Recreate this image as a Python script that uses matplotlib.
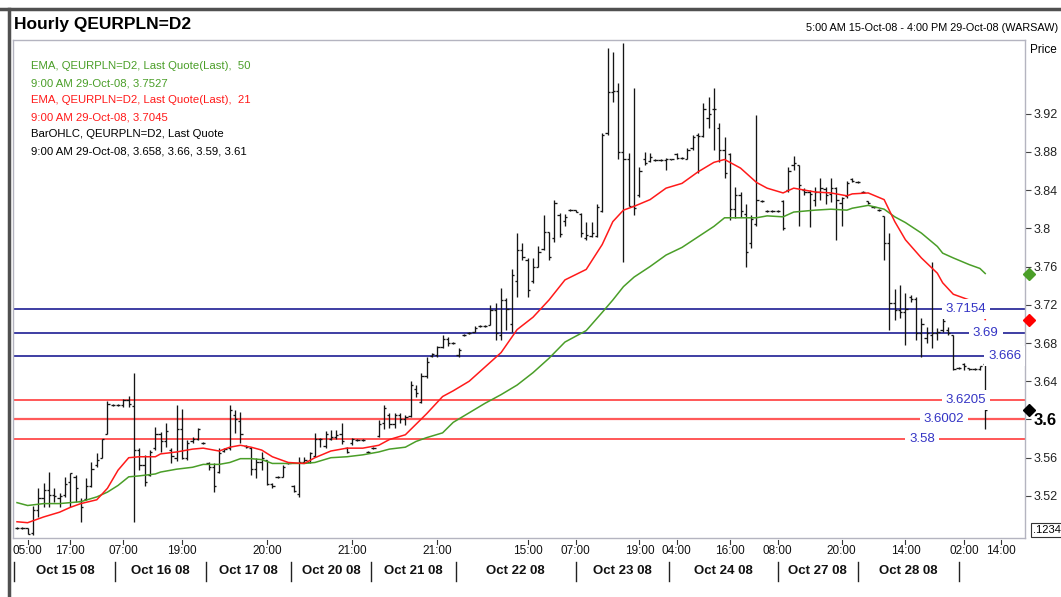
import matplotlib
matplotlib.use("Agg")
import matplotlib.pyplot as plt
import matplotlib.font_manager as fm
from matplotlib.collections import LineCollection
from matplotlib.lines import Line2D
from matplotlib.transforms import blended_transform_factory

names = {f.name for f in fm.fontManager.ttflist}
NARROW = 'Liberation Sans Narrow' if 'Liberation Sans Narrow' in names else 'Liberation Sans'
plt.rcParams['font.family'] = [NARROW, 'DejaVu Sans']

# ---------------- data ----------------
opens = [3.486,3.486,3.486,3.481,3.505,3.518,3.526,3.521,3.518,3.521,
         3.535,3.540,3.515,3.517,3.530,3.552,3.560,3.585,3.615,3.615,
         3.615,3.620,3.614,3.568,3.552,3.542,3.570,3.585,3.578,3.568,
         3.560,3.590,3.560,3.577,3.580,3.575,3.554,3.550,3.545,3.567,
         3.570,3.605,3.598,3.572,3.570,3.548,3.555,3.558,3.533,3.540,
         3.540,3.554,3.530,3.522,3.556,3.556,3.562,3.580,3.572,3.580,
         3.582,3.585,3.570,3.575,3.579,3.579,3.566,3.570,3.583,3.596,
         3.605,3.595,3.605,3.600,3.604,3.632,3.618,3.645,3.666,3.667,
         3.676,3.684,3.680,3.667,3.688,3.690,3.692,3.698,3.698,3.699,
         3.715,3.688,3.725,3.700,3.745,3.777,3.767,3.745,3.760,3.778,
         3.796,3.790,3.814,3.808,3.819,3.819,3.815,3.790,3.792,3.792,
         3.818,3.900,3.943,3.944,3.880,3.872,3.823,3.835,3.872,3.870,
         3.871,3.871,3.871,3.872,3.878,3.874,3.873,3.884,3.898,3.897,
         3.915,3.925,3.905,3.882,3.878,3.820,3.835,3.815,3.785,3.805,
         3.829,3.818,3.818,3.818,3.829,3.840,3.866,3.866,3.840,3.838,
         3.830,3.838,3.841,3.836,3.842,3.826,3.834,3.852,3.848,3.838,
         3.829,3.822,3.819,3.813,3.785,3.722,3.715,3.712,3.728,3.726,
         3.690,3.685,3.688,3.690,3.694,3.694,3.688,3.654,3.658,3.654,
         3.653,3.653,3.658]
highs = [3.487,3.487,3.486,3.510,3.528,3.534,3.545,3.528,3.523,3.540,
         3.544,3.542,3.518,3.539,3.555,3.565,3.580,3.619,3.616,3.616,
         3.621,3.625,3.649,3.570,3.563,3.568,3.592,3.587,3.596,3.570,
         3.615,3.611,3.579,3.582,3.591,3.576,3.555,3.554,3.570,3.570,
         3.615,3.610,3.608,3.573,3.571,3.560,3.566,3.558,3.534,3.541,
         3.552,3.555,3.531,3.561,3.561,3.566,3.586,3.581,3.588,3.589,
         3.589,3.596,3.571,3.581,3.580,3.580,3.567,3.571,3.599,3.615,
         3.607,3.607,3.607,3.605,3.640,3.636,3.649,3.665,3.670,3.677,
         3.688,3.686,3.681,3.675,3.689,3.691,3.698,3.699,3.699,3.720,
         3.722,3.738,3.727,3.757,3.795,3.785,3.769,3.769,3.781,3.814,
         3.796,3.830,3.816,3.815,3.820,3.819,3.816,3.807,3.807,3.825,
         3.900,3.989,3.984,3.952,3.994,3.879,3.947,3.864,3.880,3.879,
         3.872,3.872,3.874,3.873,3.879,3.875,3.884,3.898,3.900,3.931,
         3.937,3.947,3.910,3.895,3.879,3.843,3.838,3.825,3.814,3.919,
         3.830,3.819,3.819,3.819,3.830,3.864,3.876,3.866,3.842,3.840,
         3.843,3.853,3.843,3.853,3.843,3.833,3.849,3.853,3.849,3.839,
         3.829,3.823,3.820,3.813,3.795,3.736,3.741,3.732,3.730,3.728,
         3.706,3.697,3.765,3.696,3.706,3.697,3.688,3.655,3.659,3.654,
         3.654,3.656,3.660]
lows = [3.485,3.485,3.480,3.479,3.498,3.508,3.508,3.514,3.508,3.519,
        3.508,3.514,3.493,3.516,3.529,3.550,3.560,3.585,3.614,3.614,
        3.613,3.613,3.493,3.547,3.530,3.541,3.568,3.566,3.571,3.554,
        3.557,3.559,3.558,3.575,3.579,3.574,3.547,3.524,3.544,3.566,
        3.568,3.586,3.575,3.570,3.542,3.539,3.547,3.531,3.528,3.539,
        3.540,3.553,3.524,3.519,3.554,3.554,3.561,3.571,3.570,3.579,
        3.580,3.574,3.565,3.573,3.578,3.578,3.565,3.569,3.582,3.590,
        3.591,3.591,3.596,3.594,3.603,3.624,3.617,3.643,3.665,3.665,
        3.675,3.677,3.679,3.665,3.687,3.689,3.691,3.697,3.697,3.699,
        3.683,3.683,3.694,3.692,3.728,3.767,3.728,3.743,3.759,3.777,
        3.767,3.786,3.791,3.802,3.818,3.817,3.791,3.788,3.791,3.791,
        3.817,3.898,3.932,3.872,3.765,3.823,3.814,3.833,3.866,3.869,
        3.870,3.870,3.861,3.871,3.873,3.873,3.872,3.882,3.858,3.896,
        3.905,3.882,3.869,3.853,3.809,3.811,3.812,3.759,3.779,3.802,
        3.828,3.817,3.817,3.817,3.798,3.838,3.861,3.802,3.835,3.801,
        3.823,3.830,3.825,3.828,3.788,3.802,3.832,3.848,3.847,3.837,
        3.825,3.821,3.818,3.767,3.694,3.704,3.706,3.678,3.723,3.683,
        3.665,3.680,3.675,3.683,3.691,3.688,3.652,3.653,3.652,3.652,
        3.652,3.652,3.590]
closes = [3.486,3.486,3.480,3.505,3.518,3.526,3.521,3.520,3.520,3.533,
          3.544,3.528,3.508,3.530,3.548,3.558,3.580,3.616,3.615,3.615,
          3.620,3.616,3.568,3.552,3.535,3.566,3.585,3.577,3.588,3.562,
          3.590,3.560,3.575,3.580,3.590,3.575,3.550,3.530,3.565,3.569,
          3.610,3.600,3.585,3.571,3.548,3.555,3.560,3.533,3.530,3.540,
          3.550,3.554,3.525,3.556,3.558,3.565,3.580,3.580,3.585,3.582,
          3.584,3.577,3.566,3.580,3.579,3.579,3.566,3.570,3.595,3.612,
          3.595,3.605,3.600,3.603,3.636,3.628,3.645,3.660,3.668,3.676,
          3.684,3.680,3.680,3.673,3.688,3.690,3.696,3.698,3.698,3.715,
          3.690,3.725,3.716,3.751,3.777,3.770,3.735,3.759,3.775,3.796,
          3.770,3.826,3.794,3.812,3.819,3.817,3.795,3.793,3.795,3.822,
          3.898,3.943,3.944,3.880,3.872,3.823,3.821,3.860,3.868,3.875,
          3.871,3.871,3.872,3.872,3.874,3.874,3.882,3.896,3.897,3.925,
          3.920,3.925,3.882,3.858,3.820,3.835,3.818,3.775,3.810,3.830,
          3.829,3.818,3.818,3.818,3.800,3.860,3.868,3.845,3.838,3.836,
          3.838,3.842,3.835,3.842,3.830,3.832,3.847,3.849,3.848,3.838,
          3.826,3.822,3.819,3.785,3.722,3.715,3.712,3.716,3.726,3.690,
          3.700,3.690,3.690,3.692,3.703,3.690,3.653,3.654,3.656,3.653,
          3.653,3.656,3.610]

ema_idx = [0, 2, 5, 8, 10, 12, 15, 17, 19, 21, 23, 26, 27, 30, 33, 35, 38, 40, 42, 44,
           46, 48, 51, 54, 56, 59, 62, 65, 68, 70, 73, 75, 77, 80, 82, 85, 88, 91, 94, 97,
           100, 103, 107, 110, 112, 114, 116, 119, 122, 125, 128, 131, 133, 136, 139, 141,
           144, 146, 150, 153, 156, 157, 160, 163, 165, 167, 170, 173, 174, 176, 179, 181, 182]
ema21 = [3.493, 3.492, 3.498, 3.503, 3.508, 3.512, 3.516, 3.528, 3.547, 3.560, 3.561, 3.561,
         3.564, 3.566, 3.569, 3.570, 3.567, 3.571, 3.573, 3.571, 3.568, 3.561, 3.555, 3.554,
         3.560, 3.567, 3.570, 3.570, 3.573, 3.579, 3.584, 3.595, 3.606, 3.624, 3.630, 3.640,
         3.655, 3.670, 3.694, 3.707, 3.725, 3.746, 3.757, 3.783, 3.807, 3.819, 3.823, 3.830,
         3.842, 3.847, 3.859, 3.869, 3.872, 3.863, 3.848, 3.842, 3.837, 3.842, 3.838, 3.837,
         3.834, 3.836, 3.837, 3.830, 3.807, 3.788, 3.769, 3.753, 3.743, 3.731, 3.725, 3.717,
         3.7045]
ema50 = [3.513, 3.510, 3.512, 3.512, 3.513, 3.514, 3.519, 3.524, 3.531, 3.540, 3.541, 3.543,
         3.545, 3.548, 3.550, 3.553, 3.553, 3.555, 3.559, 3.559, 3.558, 3.554, 3.554, 3.554,
         3.555, 3.560, 3.561, 3.563, 3.566, 3.569, 3.571, 3.577, 3.581, 3.586, 3.597, 3.607,
         3.617, 3.626, 3.636, 3.649, 3.664, 3.681, 3.693, 3.712, 3.725, 3.739, 3.749, 3.760,
         3.772, 3.780, 3.791, 3.802, 3.811, 3.811, 3.811, 3.813, 3.812, 3.817, 3.819, 3.820,
         3.819, 3.821, 3.824, 3.820, 3.812, 3.806, 3.795, 3.781, 3.774, 3.769, 3.762, 3.758,
         3.7527]

time_tick_idx = [2, 10, 20, 31, 47, 63, 79, 96, 105, 117, 124, 134, 143, 155, 167, 178, 185]
time_tick_labels = ["05:00", "17:00", "07:00", "19:00", "20:00", "21:00", "21:00", "15:00",
                    "07:00", "19:00", "04:00", "16:00", "08:00", "20:00", "14:00", "02:00", "14:00"]
day_bounds = [-0.5, 18.5, 35.5, 51.5, 66.5, 82.5, 105, 122.5, 143, 158, 177]
day_labels = ["Oct 15 08", "Oct 16 08", "Oct 17 08", "Oct 20 08", "Oct 21 08",
              "Oct 22 08", "Oct 23 08", "Oct 24 08", "Oct 27 08", "Oct 28 08"]

blue_levels = [3.7154, 3.69, 3.666]
blue_label_idx = [178.4, 182.1, 185.7]
red_levels = [3.6205, 3.6002, 3.58]
red_label_idx = [178.4, 174.2, 170.1]

ytick_values = [3.52, 3.56, 3.6, 3.64, 3.68, 3.72, 3.76, 3.8, 3.84, 3.88, 3.92]

legend_lines = [
    ("EMA, QEURPLN=D2, Last Quote(Last),  50", "#4a9e28"),
    ("9:00 AM 29-Oct-08, 3.7527", "#4a9e28"),
    ("EMA, QEURPLN=D2, Last Quote(Last),  21", "#ff1a1a"),
    ("9:00 AM 29-Oct-08, 3.7045", "#ff1a1a"),
    ("BarOHLC, QEURPLN=D2, Last Quote", "#000000"),
    ("9:00 AM 29-Oct-08, 3.658, 3.66, 3.59, 3.61", "#000000"),
]

# ---------------- figure ----------------
W, H = 1061, 597
fig = plt.figure(figsize=(W / 100, H / 100), dpi=100)
fig.patch.set_facecolor("white")

def fx(px):
    return px / W

def fy(py):
    return 1 - py / H

ax = fig.add_axes([fx(13), fy(538), fx(1025) - fx(13), fy(40) - fy(538)])
n = len(closes)
ax.set_xlim(-0.75, -0.75 + (1025 - 13) / 5.32)
ax.set_ylim(3.476, 3.997)

for s in ax.spines.values():
    s.set_color("#b4b4c0")
    s.set_linewidth(1.0)

# OHLC bars
segs = []
tk = 0.42
for i in range(n):
    segs.append([(i, lows[i]), (i, highs[i])])
    segs.append([(i - tk, opens[i]), (i, opens[i])])
    segs.append([(i, closes[i]), (i + tk, closes[i])])
ax.add_collection(LineCollection(segs, colors="#151515", linewidths=0.95, zorder=3))

# EMAs
ax.plot(ema_idx, ema50, color="#4a9e28", lw=1.1, zorder=4)
ax.plot(ema_idx, ema21, color="#ff1a1a", lw=1.1, zorder=4)

# Level lines
for lv, li in zip(blue_levels, blue_label_idx):
    ax.axhline(lv, color="#0a0a8a", lw=1.1, zorder=2)
    ax.text(li, lv, f"{lv:g}", ha="center", va="center", fontsize=9.5, color="#3434c4",
            bbox=dict(boxstyle="square,pad=0.3", fc="white", ec="none"), zorder=5)
for k, (lv, li) in enumerate(zip(red_levels, red_label_idx)):
    ax.axhline(lv, color="#ff2a2a" if k != 1 else "#ff5a5a", lw=1.1 if k != 1 else 1.6, zorder=2)
    ax.text(li, lv, f"{lv:g}", ha="center", va="center", fontsize=9.5, color="#3434c4",
            bbox=dict(boxstyle="square,pad=0.3", fc="white", ec="none"), zorder=5)

# Right axis
ax.yaxis.tick_right()
ax.set_yticks(ytick_values)
ax.set_yticklabels([f"{v:g}" for v in ytick_values])
ax.tick_params(axis="y", direction="out", length=4, width=0.8, colors="#444444",
               labelcolor="#222222", labelsize=9, pad=2)
for lab in ax.get_yticklabels():
    if lab.get_text() == "3.6":
        lab.set_fontweight("bold")
        lab.set_fontsize(12)
        lab.set_color("black")
ax.set_xticks([])

# Markers on right axis (last values)
trans = blended_transform_factory(ax.transAxes, ax.transData)
ax.plot([1.004], [ema50[-1]], marker="D", ms=6, color="#4a9e28", transform=trans, clip_on=False, zorder=10)
ax.plot([1.004], [ema21[-1]], marker="D", ms=6, color="#ff0000", transform=trans, clip_on=False, zorder=10)
ax.plot([1.004], [closes[-1]], marker="D", ms=6, color="#000000", transform=trans, clip_on=False, zorder=10)

# X labels
xtrans = blended_transform_factory(ax.transData, ax.transAxes)
ypx = lambda py: (538 - py) / (538 - 40)
for ti, tl in zip(time_tick_idx, time_tick_labels):
    ax.text(ti, ypx(551), tl, ha="center", va="center", fontsize=8.5, color="#111111",
            transform=xtrans, clip_on=False)
    ax.add_line(Line2D([ti, ti], [ypx(540), ypx(544)], color="#333333", lw=0.8,
                       transform=xtrans, clip_on=False))
for b in day_bounds:
    ax.add_line(Line2D([b, b], [ypx(562), ypx(581)], color="#222222", lw=1.0,
                       transform=xtrans, clip_on=False))
for k, dl in enumerate(day_labels):
    mid = (day_bounds[k] + day_bounds[k + 1]) / 2
    ax.text(mid, ypx(571), dl, ha="center", va="center", fontsize=9.5, fontweight="bold",
            color="#111111", transform=xtrans, clip_on=False)

# Legend texts
for k, (txt, col) in enumerate(legend_lines):
    fig.text(fx(31), fy(66 + k * 17), txt, color=col, fontsize=8.2, ha="left", va="center")

# Titles / frame
fig.text(fx(14), fy(25), "Hourly QEURPLN=D2", fontsize=12.5, fontweight="bold", ha="left", va="center")
fig.text(fx(1058), fy(28), "5:00 AM 15-Oct-08 - 4:00 PM 29-Oct-08 (WARSAW)", fontsize=7.8,
         ha="right", va="center")
fig.text(fx(1030), fy(50), "Price", fontsize=8.5, ha="left", va="center")
fig.text(fx(1033), fy(530), ".1234", fontsize=8, ha="left", va="center",
         bbox=dict(boxstyle="square,pad=0.15", fc="white", ec="#333333", lw=0.8))
fig.add_artist(Line2D([fx(0), fx(W)], [fy(9), fy(9)], color="#505050", lw=2.5))
fig.add_artist(Line2D([fx(9), fx(9)], [fy(9), fy(H)], color="#505050", lw=2.5))

fig.savefig("out.png", dpi=100)
